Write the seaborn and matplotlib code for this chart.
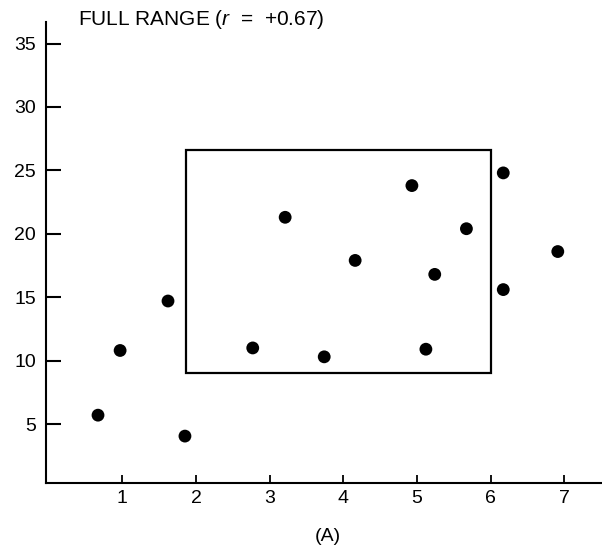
import matplotlib
matplotlib.use("Agg")
import matplotlib.pyplot as plt
import seaborn as sns
import pandas as pd
from matplotlib.patches import Rectangle

# Data
x_vals = [0.67, 0.97, 1.62, 1.85, 2.77, 3.21, 3.74, 4.16, 4.93, 5.24, 5.12, 5.67, 6.17, 6.17, 6.91]
y_vals = [5.7, 10.8, 14.7, 4.05, 11.0, 21.3, 10.3, 17.9, 23.8, 16.8, 10.9, 20.4, 24.8, 15.6, 18.6]
x_ticks = [1, 2, 3, 4, 5, 6, 7]
y_ticks = [5, 10, 15, 20, 25, 30, 35]
box_x = [1.86, 6.0]
box_y = [9.0, 26.6]
title_text = "FULL RANGE ($\\mathit{r}$  =  +0.67)"
x_label = "(A)"

sns.set_style("white")
plt.rcParams["font.family"] = ["Liberation Sans", "DejaVu Sans"]
plt.rcParams["mathtext.fontset"] = "custom"
plt.rcParams["mathtext.rm"] = "Liberation Sans"
plt.rcParams["mathtext.it"] = "Liberation Sans:italic"

df = pd.DataFrame({"x": x_vals, "y": y_vals})

fig = plt.figure(figsize=(6.02, 5.49), dpi=100)
ax = fig.add_axes([0.0759, 0.1197, 0.9241, 0.96 - 0.1197])

sns.scatterplot(data=df, x="x", y="y", ax=ax, color="black", s=85,
                edgecolor="none", linewidth=0, zorder=3)

ax.add_patch(Rectangle((box_x[0], box_y[0]), box_x[1] - box_x[0], box_y[1] - box_y[0],
                       fill=False, edgecolor="black", linewidth=1.6, zorder=2))

ax.set_xlim(-0.04, 7.51)
ax.set_ylim(0.33, 36.7)
ax.set_xticks(x_ticks)
ax.set_yticks(y_ticks)
ax.set_xticklabels([str(t) for t in x_ticks])
ax.set_yticklabels([str(t) for t in y_ticks])

for side in ["top", "right"]:
    ax.spines[side].set_visible(False)
for side in ["left", "bottom"]:
    ax.spines[side].set_linewidth(1.5)
    ax.spines[side].set_color("black")

ax.tick_params(axis="y", direction="in", length=10.5, width=1.5, pad=7,
               labelsize=14, colors="black", left=True)
ax.tick_params(axis="x", direction="in", length=5.5, width=1.3, pad=5,
               labelsize=14, colors="black", bottom=True)

ax.set_xlabel(x_label, fontsize=14, labelpad=15, color="black")
ax.xaxis.label.set_x(0.507)
ax.set_ylabel("")

fig.text(0.1296, 0.954, title_text, fontsize=15, ha="left", va="baseline", color="black")

fig.savefig("out.png", dpi=100)
